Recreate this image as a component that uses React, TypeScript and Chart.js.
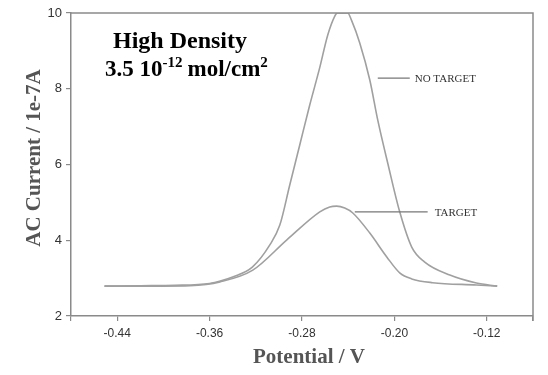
import React, { useEffect, useRef } from 'react';
import { Chart, registerables } from 'chart.js';

Chart.register(...registerables);

// Potential (V) and AC current (1e-7 A)
const noTargetPotential = [-0.451, -0.42, -0.39, -0.36, -0.35, -0.34, -0.323, -0.308, -0.2992, -0.2906, -0.282, -0.2733, -0.2647, -0.2577, -0.2516, -0.2494, -0.2404, -0.237, -0.23, -0.2213, -0.2144, -0.2058, -0.1954, -0.185, -0.174, -0.152, -0.129, -0.111];
const noTargetCurrent = [2.79, 2.8, 2.81, 2.86, 2.93, 3.03, 3.29, 3.87, 4.4, 5.46, 6.51, 7.57, 8.55, 9.42, 9.92, 10, 10, 9.8, 9.21, 8.23, 7.17, 6.04, 4.75, 3.82, 3.43, 3.08, 2.87, 2.79];
const targetPotential = [-0.451, -0.4, -0.377, -0.351, -0.3226, -0.2931, -0.2646, -0.256, -0.25, -0.243, -0.236, -0.2213, -0.2066, -0.1954, -0.185, -0.167, -0.129, -0.111];
const targetCurrent = [2.79, 2.79, 2.8, 2.9, 3.21, 4.01, 4.75, 4.88, 4.9, 4.85, 4.72, 4.19, 3.56, 3.14, 2.98, 2.88, 2.82, 2.79];

const xTickValues = [-0.48, -0.44, -0.36, -0.28, -0.2, -0.12, -0.08];
const xTickLabels = ['', '-0.44', '-0.36', '-0.28', '-0.20', '-0.12', ''];
const yTickValues = [2, 4, 6, 8, 10];
const yTickLabels = ['2', '4', '6', '8', '10'];

const seriesNames = ['NO TARGET', 'TARGET'];
const titleLine1 = 'High Density';
const xAxisTitle = 'Potential / V';
const yAxisTitle = 'AC Current / 1e-7A';

const SERIF = "'Liberation Serif', 'Times New Roman', serif";
const SANS = "'Liberation Sans Narrow', 'Liberation Sans', Arial, sans-serif";

const decorPlugin = {
  id: 'decor',
  afterDraw(chart: any) {
    const ctx = chart.ctx;
    const { left, right, top, bottom } = chart.chartArea;
    const xs = chart.scales.x;
    const ys = chart.scales.y;
    ctx.save();
    // frame top + right
    ctx.strokeStyle = '#8a8a8a';
    ctx.lineWidth = 1.5;
    ctx.beginPath();
    ctx.moveTo(left, top);
    ctx.lineTo(right, top);
    ctx.lineTo(right, bottom + 5);
    ctx.stroke();

    // series labels with leader lines
    const labels = [
      { name: seriesNames[0], x0: -0.2144, x1: -0.1867, tx: -0.1824, y: 8.28 },
      { name: seriesNames[1], x0: -0.2343, x1: -0.1712, tx: -0.1651, y: 4.75 },
    ];
    labels.forEach((l) => {
      const py = ys.getPixelForValue(l.y);
      ctx.strokeStyle = '#777';
      ctx.lineWidth = 1.2;
      ctx.beginPath();
      ctx.moveTo(xs.getPixelForValue(l.x0), py);
      ctx.lineTo(xs.getPixelForValue(l.x1), py);
      ctx.stroke();
      ctx.fillStyle = '#333';
      ctx.font = `11px ${SERIF}`;
      ctx.textAlign = 'left';
      ctx.textBaseline = 'middle';
      ctx.fillText(l.name, xs.getPixelForValue(l.tx), py + 1);
    });

    // heading
    ctx.fillStyle = '#000';
    ctx.textBaseline = 'alphabetic';
    ctx.textAlign = 'left';
    ctx.font = `bold 24px ${SERIF}`;
    ctx.fillText(titleLine1, 113, 48);
    let x = 105;
    const base = 76;
    ctx.font = `bold 23px ${SERIF}`;
    const p1 = '3.5 10';
    ctx.fillText(p1, x, base);
    x += ctx.measureText(p1).width;
    ctx.font = `bold 15px ${SERIF}`;
    const sup1 = '-12';
    ctx.fillText(sup1, x, base - 9);
    x += ctx.measureText(sup1).width + 5;
    ctx.font = `bold 23px ${SERIF}`;
    const p2 = 'mol/cm';
    ctx.fillText(p2, x, base);
    x += ctx.measureText(p2).width;
    ctx.font = `bold 15px ${SERIF}`;
    ctx.fillText('2', x, base - 9);

    // axis titles
    ctx.fillStyle = '#555';
    ctx.font = `bold 21px ${SERIF}`;
    ctx.textAlign = 'center';
    ctx.textBaseline = 'middle';
    ctx.fillText(xAxisTitle, 309, 358);
    ctx.translate(35, 158);
    ctx.rotate(-Math.PI / 2);
    ctx.fillText(yAxisTitle, 0, 0);
    ctx.restore();
  },
};

export default function App() {
  const ref = useRef<HTMLCanvasElement>(null);
  useEffect(() => {
    if (!ref.current) return;
    const mk = (xs: number[], ys: number[]) => xs.map((v, i) => ({ x: v, y: ys[i] }));
    const chart = new Chart(ref.current, {
      type: 'line',
      data: {
        datasets: [
          {
            label: seriesNames[0],
            data: mk(noTargetPotential, noTargetCurrent),
            borderColor: '#a0a0a0',
            borderWidth: 1.6,
            pointRadius: 0,
            cubicInterpolationMode: 'monotone',
          },
          {
            label: seriesNames[1],
            data: mk(targetPotential, targetCurrent),
            borderColor: '#a0a0a0',
            borderWidth: 1.6,
            pointRadius: 0,
            cubicInterpolationMode: 'monotone',
          },
        ],
      },
      options: {
        animation: false,
        responsive: false,
        layout: { padding: { left: 0, top: 13, right: 15, bottom: 0 } },
        plugins: { legend: { display: false }, tooltip: { enabled: false } },
        scales: {
          x: {
            type: 'linear',
            min: -0.48,
            max: -0.08,
            afterBuildTicks: (s: any) => {
              s.ticks = xTickValues.map((v) => ({ value: v }));
            },
            afterFit: (s: any) => {
              s.height = 59;
            },
            ticks: {
              autoSkip: false,
              maxRotation: 0,
              padding: 5,
              color: '#333',
              font: { family: SANS, size: 12 },
              callback: (v: any) => {
                const i = xTickValues.findIndex((t) => Math.abs(t - v) < 1e-6);
                return i >= 0 ? xTickLabels[i] : '';
              },
            },
            grid: { drawOnChartArea: false, drawTicks: true, tickLength: 5, color: '#8a8a8a', lineWidth: 1.2 },
            border: { color: '#8a8a8a', width: 1.5 },
          },
          y: {
            min: 2,
            max: 10,
            afterBuildTicks: (s: any) => {
              s.ticks = yTickValues.map((v) => ({ value: v }));
            },
            afterFit: (s: any) => {
              s.width = 71;
            },
            ticks: {
              padding: 4,
              color: '#333',
              font: { family: SANS, size: 13 },
              callback: (v: any) => {
                const i = yTickValues.indexOf(v);
                return i >= 0 ? yTickLabels[i] : '';
              },
            },
            grid: { drawOnChartArea: false, drawTicks: true, tickLength: 5, color: '#8a8a8a', lineWidth: 1.2 },
            border: { color: '#8a8a8a', width: 1.5 },
          },
        },
      },
      plugins: [decorPlugin],
    } as any);
    return () => chart.destroy();
  }, []);
  return (
    <div style={{ position: 'fixed', left: 0, top: 0, width: 548, height: 375, background: '#fff' }}>
      <canvas ref={ref} width={548} height={375} style={{ width: 548, height: 375, display: 'block' }} />
    </div>
  );
}
